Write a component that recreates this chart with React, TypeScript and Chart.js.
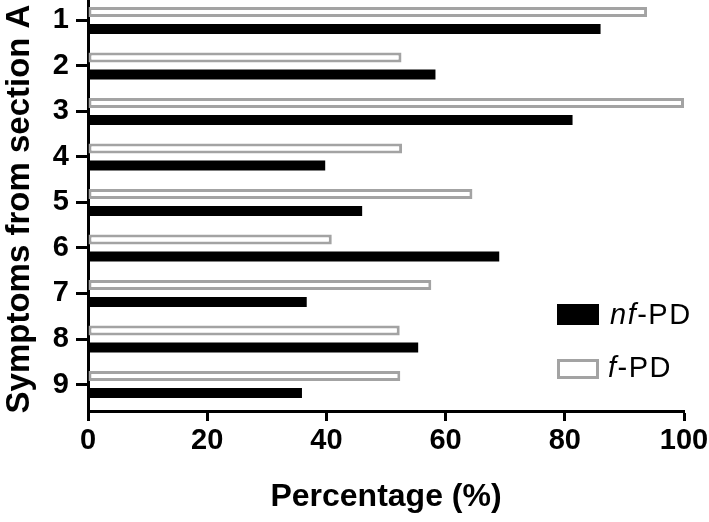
import React, { useEffect, useRef } from 'react';
import { Chart, registerables } from 'chart.js';

Chart.register(...registerables);

// Data
const symptoms = ['1', '2', '3', '4', '5', '6', '7', '8', '9'];
const fPD = [93.8, 52.6, 100, 52.7, 64.5, 40.9, 57.6, 52.3, 52.4];
const nfPD = [86.0, 58.3, 81.3, 39.8, 46.0, 69.0, 36.7, 55.4, 35.9];
const xTicks = [0, 20, 40, 60, 80, 100];
const seriesNames = ['nf-PD', 'f-PD'];
const yTitle = 'Symptoms from section A';
const xTitle = 'Percentage (%)';

const FAMILY = '"Liberation Sans", Arial, Helvetica, sans-serif';
const GRAY = '#a3a3a3';

const yTitlePlugin = {
  id: 'yTitleRotated',
  afterDraw(chart: any) {
    const ctx = chart.ctx as CanvasRenderingContext2D;
    ctx.save();
    ctx.translate(28.5, 209);
    ctx.rotate(-Math.PI / 2);
    ctx.font = `bold 33px ${FAMILY}`;
    ctx.fillStyle = '#000';
    ctx.textAlign = 'center';
    ctx.textBaseline = 'alphabetic';
    ctx.fillText(yTitle, 0, 0);
    ctx.restore();
  },
};

export default function App() {
  const ref = useRef<HTMLCanvasElement>(null);

  useEffect(() => {
    const canvas = ref.current;
    if (!canvas) return;
    const chart = new Chart(canvas, {
      type: 'bar',
      data: {
        datasets: [
          {
            label: seriesNames[1],
            data: fPD.map((v, i) => ({ x: v, y: i + 1 })),
            backgroundColor: '#ffffff',
            borderColor: GRAY,
            borderWidth: 3,
            borderSkipped: false,
            categoryPercentage: 0.747,
            barPercentage: 0.588,
          },
          {
            label: seriesNames[0],
            data: nfPD.map((v, i) => ({ x: v, y: i + 1 })),
            backgroundColor: '#000000',
            borderWidth: 0,
            categoryPercentage: 0.747,
            barPercentage: 0.588,
          },
        ],
      } as any,
      options: {
        indexAxis: 'y',
        responsive: false,
        animation: false,
        devicePixelRatio: 1,
        layout: { padding: { left: 0, top: 0, right: 25, bottom: 0 } },
        plugins: {
          legend: { display: false },
          tooltip: { enabled: false },
        },
        scales: {
          y: {
            type: 'linear',
            reverse: true,
            min: 0.5495,
            max: 9.5824,
            offset: false,
            z: 1,
            afterBuildTicks: (s: any) => {
              s.ticks = symptoms.map((_, i) => ({ value: i + 1 }));
            },
            afterFit: (s: any) => {
              s.width = 88;
              s.paddingTop = 0;
              s.paddingBottom = 0;
            },
            ticks: {
              autoSkip: false,
              padding: 7,
              color: '#000',
              font: { family: FAMILY, size: 29, weight: 'bold' },
              callback: (v: any) => symptoms[Number(v) - 1] ?? '',
            },
            grid: {
              drawOnChartArea: false,
              offset: false,
              tickLength: 12,
              tickWidth: 3,
              tickColor: '#000',
            },
            border: { display: true, width: 3, color: '#000' },
            title: { display: false, text: yTitle },
          },
          x: {
            type: 'linear',
            min: 0,
            max: 100,
            z: 1,
            afterBuildTicks: (s: any) => {
              s.ticks = xTicks.map((v) => ({ value: v }));
            },
            afterFit: (s: any) => {
              s.height = 111;
              s.paddingLeft = 0;
              s.paddingRight = 0;
            },
            ticks: {
              autoSkip: false,
              maxRotation: 0,
              padding: 3,
              color: '#000',
              font: { family: FAMILY, size: 29, weight: 'bold' },
            },
            grid: {
              drawOnChartArea: false,
              tickLength: 10,
              tickWidth: 3,
              tickColor: '#000',
            },
            border: { display: true, width: 3, color: '#000' },
            title: {
              display: true,
              text: xTitle,
              color: '#000',
              font: { family: FAMILY, size: 32, weight: 'bold', lineHeight: 1 },
              padding: { top: 0, bottom: 9 },
            },
          },
        },
      } as any,
      plugins: [yTitlePlugin],
    });
    return () => chart.destroy();
  }, []);

  const textStyle: React.CSSProperties = {
    position: 'absolute',
    fontFamily: FAMILY,
    fontSize: 29,
    lineHeight: '29px',
    letterSpacing: 1.5,
    color: '#000',
    whiteSpace: 'nowrap',
  };

  return (
    <div style={{ position: 'absolute', left: 0, top: 0, width: 709, height: 522, background: '#fff' }}>
      <canvas ref={ref} width={709} height={522} style={{ display: 'block', width: 709, height: 522 }} />
      <div style={{ position: 'absolute', left: 557, top: 304, width: 42, height: 21, background: '#000' }} />
      <div style={{ ...textStyle, left: 610, top: 300 }}>
        <i>nf</i>-PD
      </div>
      <div
        style={{
          position: 'absolute',
          left: 557,
          top: 359,
          width: 42,
          height: 20,
          boxSizing: 'border-box',
          border: `3px solid ${GRAY}`,
          background: '#fff',
        }}
      />
      <div style={{ ...textStyle, left: 608, top: 353 }}>
        <i>f</i>-PD
      </div>
    </div>
  );
}
